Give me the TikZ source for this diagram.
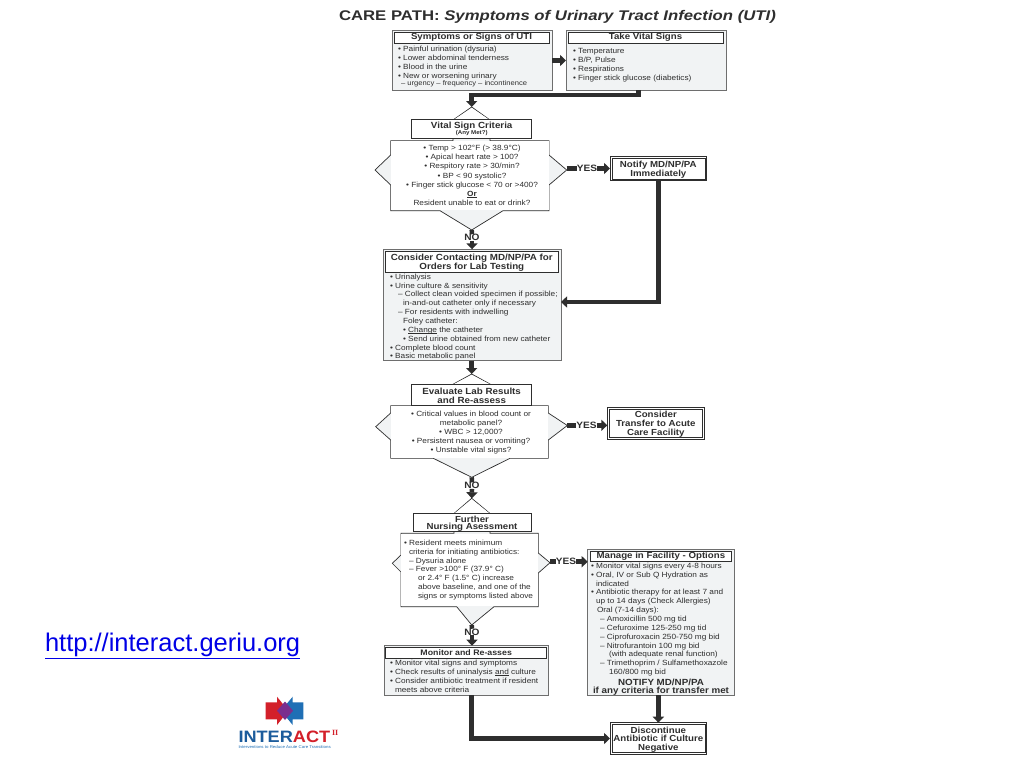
\documentclass[tikz,border=0pt]{standalone}
\usepackage{fontspec}
\setmainfont[FakeStretch=1.1]{Liberation Sans}
\newfontfamily\titlefont[FakeStretch=1.195]{Liberation Sans}
\newfontfamily\plainfont{Liberation Sans}
\newfontfamily\logoserif{Liberation Serif}
\usetikzlibrary{arrows.meta}
\definecolor{ink}{HTML}{2E2E2E}
\definecolor{boxline}{HTML}{6E6E6E}
\definecolor{boxfill}{HTML}{F1F3F4}
\definecolor{linkblue}{HTML}{0000E6}
\definecolor{logored}{HTML}{D3202A}
\definecolor{logoblue}{HTML}{1F6FB5}
\definecolor{logopurple}{HTML}{7A2E8E}
\definecolor{logonavy}{HTML}{1C5C9C}
\newcommand\pxbox[7]{%
  \pgfmathsetmacro\pxcx{(#3+#5)/2}\pgfmathsetmacro\pxcy{(#4+#6)/2}%
  \pgfmathsetmacro\pxw{#5-#3}\pgfmathsetmacro\pxh{#6-#4}%
  \node[#1,minimum width=\pxw pt,minimum height=\pxh pt] (#2) at (\pxcx,\pxcy) {#7};}
\newcommand\inset[1]{\draw[draw=ink,line width=.5pt] ([shift={(1.8,1.8)}]#1.north west) rectangle ([shift={(-1.8,-1.8)}]#1.south east);}
\newsavebox\ulbox
\newcommand\ulx[1]{\sbox\ulbox{#1}\rlap{\rule[-1.4pt]{\wd\ulbox}{.45pt}}#1}
\newcommand\hd[2][-1.1pt]{\raisebox{#1}{#2}}
\newcommand\fs{\rule{0pt}{8.8pt}}
\tikzset{
  x=1pt,y=-1pt,
  every node/.style={inner sep=0pt,outer sep=0pt,text=ink},
  panel/.style={draw=boxline,fill=boxfill,line width=1pt},
  header/.style={draw=ink,fill=white,line width=.7pt,align=center,font=\bfseries\fontsize{8.8}{9}\selectfont},
  headerbig/.style={header,font=\bfseries\fontsize{8.9}{9.4}\selectfont},
  headertight/.style={header,font=\bfseries\fontsize{8.9}{8.3}\selectfont},
  outcome/.style={draw=ink,fill=white,line width=.8pt,align=center,font=\bfseries\fontsize{8.8}{8.3}\selectfont},
  listing/.style={anchor=north west,align=left,font=\fontsize{7.5}{8.85}\selectfont},
  listingc/.style={anchor=north,align=center,font=\fontsize{7.5}{9.15}\selectfont},
  diamondline/.style={draw=ink,line width=.7pt},
  flow/.style={draw=ink,line width=4.5pt,-{Triangle[length=6pt,width=11pt]}},
  stub/.style={draw=ink,line width=4.5pt},
  word/.style={font=\bfseries\fontsize{9.2}{10}\selectfont},
}
\begin{document}
\begin{tikzpicture}
\useasboundingbox (0,0) rectangle (1024,768);
\fill[white] (0,0) rectangle (1024,768);

% title
\node[anchor=west,font=\titlefont\fontsize{14}{15}\selectfont] (title) at (339,17) {\textbf{CARE PATH:} \textbf{\itshape Symptoms of Urinary Tract Infection (UTI)}};

% top boxes
\pxbox{panel}{sym}{392}{31}{552}{90}{}
\pxbox{header}{symh}{394}{32}{549}{43}{\hd[-2.2pt]{Symptoms or Signs of UTI}}
\node[listing] (symt) at (398,46.3) {• Painful urination (dysuria)\\• Lower abdominal tenderness\\• Blood in the urine\\• New or worsening urinary\\[-1.2pt]\hspace*{3pt}{\fontsize{6.9}{8}\selectfont – urgency – frequency – incontinence}};
\pxbox{panel}{vit}{566}{31}{726.5}{90}{}
\pxbox{header}{vith}{568}{32}{723}{43}{\hd[-2.2pt]{Take Vital Signs}}
\node[listing] (vitt) at (573,48.8) {• Temperature\\• B/P, Pulse\\• Respirations\\• Finger stick glucose (diabetics)};

% first decision
\coordinate (d1top) at (471.7,107);
\coordinate (d1bot) at (471.7,230);
\coordinate (d1right) at (566.7,170);
\filldraw[diamondline,fill=boxfill] (d1top) -- (490,120) -- (490,140.7) -- (549,140.7) -- (549,155) -- (d1right) -- (549,185) -- (549,210.7) -- (503,210.7) -- (d1bot) -- (440,210.7) -- (390.7,210.7) -- (390.7,185) -- (375,170) -- (390.7,155) -- (390.7,140.7) -- (453,140.7) -- (453,120) -- cycle;
\fill[white] (391.1,141.1) rectangle (548.6,210.3);
\fill[white] (471.7,108) -- (489.6,120) -- (453.4,120) -- cycle;
\pxbox{headerbig}{d1h}{411.7}{119.3}{531.7}{138.3}{\raisebox{-1.5pt}{Vital Sign Criteria}\\[-2pt]{\fontsize{5.6}{6}\selectfont (Any Met?)}}
\node[listingc] (d1t) at (472,145.2) {• Temp > 102°F (> 38.9°C)\\• Apical heart rate > 100?\\• Respitory rate > 30/min?\\• BP < 90 systolic?\\• Finger stick glucose < 70 or >400?\\\ulx{\textbf{Or}}\\Resident unable to eat or drink?};
\pxbox{outcome}{notify}{610}{156.7}{706.7}{180.7}{\fs Notify MD/NP/PA\\[.7pt]Immediately}
\inset{notify}
\node[word] (yes1) at (587,168.5) {YES};
\node[word] (no1) at (472,237.5) {NO};

% consider box
\pxbox{panel}{con}{383.3}{249.3}{561}{360.7}{}
\pxbox{headerbig}{conh}{385.3}{251}{558.3}{272.3}{\fs Consider Contacting MD/NP/PA for\\Orders for Lab Testing}
\node[listing] (cont) at (390,273.8) {• Urinalysis\\• Urine culture \& sensitivity\\\hspace*{8pt}– Collect clean voided specimen if possible;\\\hspace*{13pt}in-and-out catheter only if necessary\\\hspace*{8pt}– For residents with indwelling\\\hspace*{13pt}Foley catheter:\\\hspace*{13pt}• \ulx{Change} the catheter\\\hspace*{13pt}• Send urine obtained from new catheter\\• Complete blood count\\• Basic metabolic panel};
\coordinate (conin) at (561,302);

% second decision
\coordinate (d2top) at (471.7,374);
\coordinate (d2bot) at (471.7,477.3);
\coordinate (d2right) at (567.3,425.5);
\filldraw[diamondline,fill=boxfill] (d2top) -- (491.7,385) -- (491.7,405.7) -- (548.3,405.7) -- (548.3,413) -- (d2right) -- (548.3,440) -- (548.3,458.3) -- (510,458.3) -- (d2bot) -- (433.3,458.3) -- (390.7,458.3) -- (390.7,440) -- (375.7,426.7) -- (390.7,413) -- (390.7,405.7) -- (451.7,405.7) -- (451.7,385) -- cycle;
\fill[white] (391.1,406.1) rectangle (547.9,457.9);
\fill[white] (471.7,375) -- (491.3,385) -- (452.1,385) -- cycle;
\pxbox{headertight}{d2h}{411.7}{384.3}{531.7}{405}{\fs Evaluate Lab Results\\and Re-assess}
\node[listingc,font=\fontsize{7.5}{8.95}\selectfont] (d2t) at (471,411.2) {• Critical values in blood count or\\metabolic panel?\\• WBC > 12,000?\\• Persistent nausea or vomiting?\\• Unstable vital signs?};
\pxbox{outcome}{transfer}{607.3}{407.3}{704.3}{439.3}{\fs Consider\\[.6pt]Transfer to Acute\\[.6pt]Care Facility}
\inset{transfer}
\node[word] (yes2) at (586.5,425.3) {YES};
\node[word] (no2) at (472,485.7) {NO};

% third decision
\coordinate (d3top) at (471.7,498.3);
\coordinate (d3bot) at (471.7,625);
\coordinate (d3right) at (550,562.7);
\filldraw[diamondline,fill=boxfill] (d3top) -- (490,513.5) -- (490,533.3) -- (538.3,533.3) -- (538.3,553) -- (d3right) -- (538.3,573) -- (538.3,606.7) -- (494,606.7) -- (d3bot) -- (456.7,606.7) -- (401,606.7) -- (401,572) -- (392.3,563.3) -- (401,555) -- (401,533.3) -- (454,533.3) -- (454,513.5) -- cycle;
\fill[white] (401.4,533.7) rectangle (537.9,606.3);
\fill[white] (471.7,499.3) -- (489.6,513.5) -- (454.4,513.5) -- cycle;
\pxbox{header}{d3h}{413}{513.3}{531}{531.5}{\fs Further\\[-1.5pt]Nursing Asessment}
\node[listing] (d3t) at (404,540) {• Resident meets minimum\\\hspace*{5pt}criteria for initiating antibiotics:\\\hspace*{5pt}– Dysuria alone\\\hspace*{5pt}– Fever >100° F (37.9° C)\\\hspace*{14pt}or 2.4° F (1.5° C) increase\\\hspace*{14pt}above baseline, and one of the\\\hspace*{14pt}signs or symptoms listed above};
\node[word] (yes3) at (566,561.7) {YES};
\node[word] (no3) at (472,632) {NO};

% monitor box
\pxbox{panel}{mon}{384}{645.7}{548.3}{695}{}
\pxbox{header}{monh}{385.7}{647.3}{546.7}{658.3}{\hd{\fontsize{8}{9}\selectfont Monitor and Re-asses}}
\node[listing] (mont) at (390,660.2) {• Monitor vital signs and symptoms\\• Check results of uninalysis \ulx{and} culture\\• Consider antibiotic treatment if resident\\\hspace*{5pt}meets above criteria};

% manage box
\pxbox{panel}{man}{587.7}{549}{734}{695}{}
\pxbox{header}{manh}{590}{551}{731.7}{561}{\hd[-1.8pt]{Manage in Facility - Options}}
\node[listing] (mant) at (591,563) {• Monitor vital signs every 4-8 hours\\• Oral, IV or Sub Q Hydration as\\\hspace*{5pt}indicated\\• Antibiotic therapy for at least 7 and\\\hspace*{5pt}up to 14 days (Check Allergies)\\\hspace*{6pt}Oral (7-14 days):\\\hspace*{9pt}– Amoxicillin 500 mg tid\\\hspace*{9pt}– Cefuroxime 125-250 mg tid\\\hspace*{9pt}– Ciprofuroxacin 250-750 mg bid\\\hspace*{9pt}– Nitrofurantoin 100 mg bid\\\hspace*{18pt}(with adequate renal function)\\\hspace*{9pt}– Trimethoprim / Sulfamethoxazole\\\hspace*{18pt}160/800 mg bid};
\node[anchor=north,align=center,font=\bfseries\fontsize{8.9}{8.6}\selectfont] (mannote) at (661,678.7) {NOTIFY MD/NP/PA\\if any criteria for transfer met};

% final
\pxbox{outcome}{disc}{610}{722.7}{706.7}{754.3}{\fs Discontinue\\[.6pt]Antibiotic if Culture\\[.6pt]Negative}
\inset{disc}

% connectors
\draw[flow] (sym.east) -- (vit.west);
\draw[flow] ([xshift=-8pt]vit.south) -- ++(0,5) -| (d1top);
\draw[stub] (d1right |- yes1) -- (yes1.west);
\draw[flow] (yes1.east) -- (notify.west |- yes1);
\draw[stub] (d1bot) -- (no1.north);
\draw[flow] (no1.south) -- (con.north -| no1);
\draw[flow] (notify.south) |- (conin);
\draw[flow] (con.south -| d2top) -- (d2top);
\draw[stub] (d2right |- yes2) -- (yes2.west);
\draw[flow] (yes2.east) -- (transfer.west |- yes2);
\draw[stub] (d2bot) -- (no2.north);
\draw[flow] (no2.south) -- (d3top);
\draw[stub] (d3right |- yes3) -- (yes3.west);
\draw[flow] (yes3.east) -- (man.west |- yes3);
\draw[stub] (d3bot) -- (no3.north);
\draw[flow] (no3.south) -- (mon.north -| no3);
\draw[flow] (man.south -| disc.north) -- (disc.north);
\draw[flow] (mon.south -| d3top) |- (disc.west);

% link
\node[anchor=west,font=\plainfont\fontsize{25.5}{27}\selectfont,text=linkblue] (link) at (45,645.5) {\underline{http://interact.geriu.org}};

% logo
\fill[logored] (265.7,702.3) -- (277,702.3) -- (277,696.7) -- (288.3,710.7) -- (277,725) -- (277,719.3) -- (265.7,719.3) -- cycle;
\fill[logoblue] (303.3,702.3) -- (292.7,702.3) -- (292.7,696.7) -- (281,710.7) -- (292.7,725) -- (292.7,719.3) -- (303.3,719.3) -- cycle;
\fill[logopurple] (285,701.5) -- (293,710.7) -- (285,720) -- (277,710.7) -- cycle;
\node[anchor=west,font=\bfseries\fontsize{16.5}{16}\selectfont] (logot) at (238.5,736.5) {\textcolor{logonavy}{INTER}\textcolor{logored}{ACT}};
\node[anchor=west,font=\logoserif\bfseries\fontsize{8}{8}\selectfont,text=logored] (logoii) at (332,733) {II};
\node[anchor=west,font=\fontsize{4}{4}\selectfont,text=logoblue] (logos) at (238.5,747) {Interventions to Reduce Acute Care Transitions};
\end{tikzpicture}
\end{document}
